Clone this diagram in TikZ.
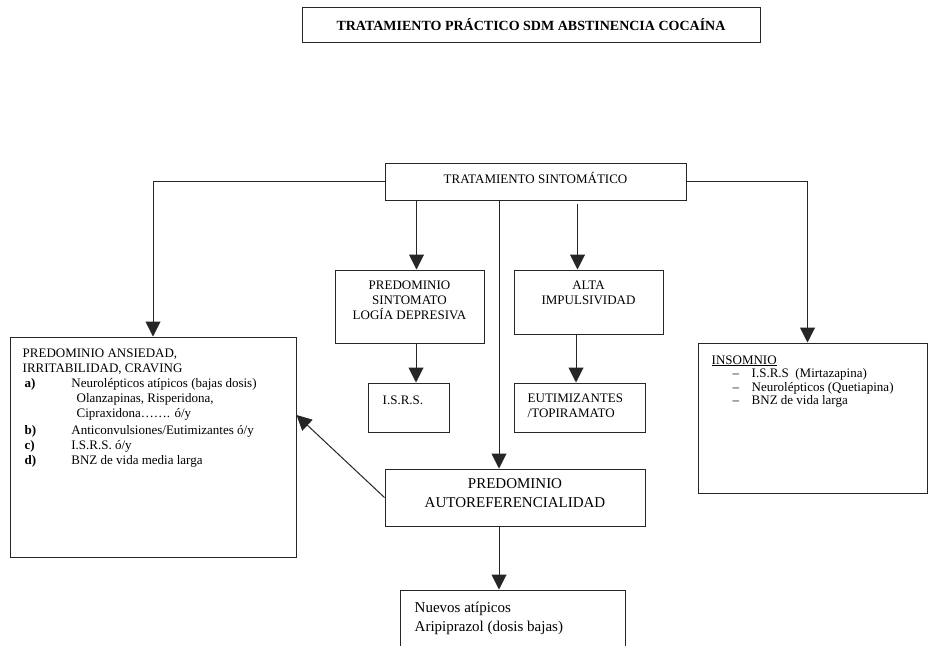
\documentclass[tikz,border=0pt]{standalone}
\usepackage{fontspec}
\setmainfont{Liberation Serif}
\usetikzlibrary{arrows.meta}

\tikzset{
  box/.style={draw=black!85, line width=1pt, rectangle, inner sep=0pt, align=center},
  toptext/.style={anchor=north west, inner sep=0pt, align=left},
  arrow/.style={draw=black!85, line width=1pt, -{Triangle[width=15pt,length=15pt]}},
}

\begin{document}
\begin{tikzpicture}[x=1pt,y=-1pt, every node/.append style={font=\fontsize{13}{15}\selectfont}]
\useasboundingbox (0,0) rectangle (928,645);

\node[box, minimum width=458pt, minimum height=35pt, font=\bfseries\fontsize{14}{16}\selectfont] (title) at (531,24.5) {TRATAMIENTO PRÁCTICO SDM ABSTINENCIA COCAÍNA};
\node[box, minimum width=301pt, minimum height=37pt, text depth=8pt] (ts) at (535.5,181.5) {TRATAMIENTO SINTOMÁTICO};

\node[box, minimum width=149pt, minimum height=73pt, text depth=13pt] (psld) at (409.5,306.5) {PREDOMINIO\\SINTOMATO\\LOGÍA DEPRESIVA};
\node[box, minimum width=149pt, minimum height=64pt, text depth=19pt] (alta) at (588.5,302) {ALTA\\IMPULSIVIDAD};

\node[box, minimum width=81pt, minimum height=49pt,
  label={[toptext, xshift=15pt, yshift=-12.7pt]north west:I.S.R.S.}] (isrs) at (408.5,407.5) {};
\node[box, minimum width=131pt, minimum height=49pt,
  label={[toptext, xshift=14pt, yshift=-10.7pt]north west:{EUTIMIZANTES\\/TOPIRAMATO}}] (eutim) at (579.5,407.5) {};

\node[box, minimum width=260pt, minimum height=57pt, text depth=8pt, font=\fontsize{15}{19}\selectfont] (auto) at (515,497.5) {PREDOMINIO\\AUTOREFERENCIALIDAD};

\node[box, minimum width=286pt, minimum height=220pt,
  label={[toptext, xshift=13pt, yshift=-11.7pt]north west:{PREDOMINIO ANSIEDAD,\\
    IRRITABILIDAD, CRAVING\\
    \hspace*{2pt}\makebox[46.7pt][l]{\textbf{a)}}Neurolépticos atípicos (bajas dosis)\\
    \hspace*{54pt}Olanzapinas, Risperidona,\\
    \hspace*{54pt}Cipraxidona……. ó/y\\[2pt]
    \hspace*{2pt}\makebox[46.7pt][l]{\textbf{b)}}Anticonvulsiones/Eutimizantes ó/y\\
    \hspace*{2pt}\makebox[46.7pt][l]{\textbf{c)}}I.S.R.S. ó/y\\
    \hspace*{2pt}\makebox[46.7pt][l]{\textbf{d)}}BNZ de vida media larga}}] (anx) at (153,447) {};

\node[box, minimum width=229pt, minimum height=150pt,
  label={[toptext, xshift=14pt, yshift=-12.7pt, font=\fontsize{13}{13.5}\selectfont]north west:{\underline{INSOMNIO}\\
    \hspace*{21pt}\makebox[19pt][l]{–}I.S.R.S\ \ (Mirtazapina)\\
    \hspace*{21pt}\makebox[19pt][l]{–}Neurolépticos (Quetiapina)\\
    \hspace*{21pt}\makebox[19pt][l]{–}BNZ de vida larga}}] (ins) at (812.5,418) {};

\node[box, minimum width=225pt, minimum height=90pt,
  label={[toptext, xshift=15pt, yshift=-12pt, font=\fontsize{15}{19}\selectfont]north west:{Nuevos atípicos\\Aripiprazol (dosis bajas)}}] (nuevos) at (512.5,635) {};

\draw[arrow] (ts.west) -| (anx.north);
\draw[arrow] (ts.east) -| ([xshift=-5pt]ins.north);
\draw[arrow] ([xshift=7pt]psld.north |- ts.south) -- ([xshift=7pt]psld.north);
\draw[arrow] ([xshift=-11pt,yshift=-3pt]alta.north |- ts.south) -- ([xshift=-11pt]alta.north);
\draw[arrow] ([xshift=-16pt]auto.north |- ts.south) -- ([xshift=-16pt]auto.north);
\draw[arrow] ([xshift=7.5pt]isrs.north |- psld.south) -- ([xshift=7.5pt]isrs.north);
\draw[arrow] ([xshift=-3.5pt]eutim.north |- alta.south) -- ([xshift=-3.5pt]eutim.north);
\draw[arrow] ([xshift=-13.5pt]nuevos.north |- auto.south) -- ([xshift=-13.5pt]nuevos.north);
\draw[arrow] (auto.west) -- ([yshift=32pt]anx.east);
\end{tikzpicture}
\end{document}
